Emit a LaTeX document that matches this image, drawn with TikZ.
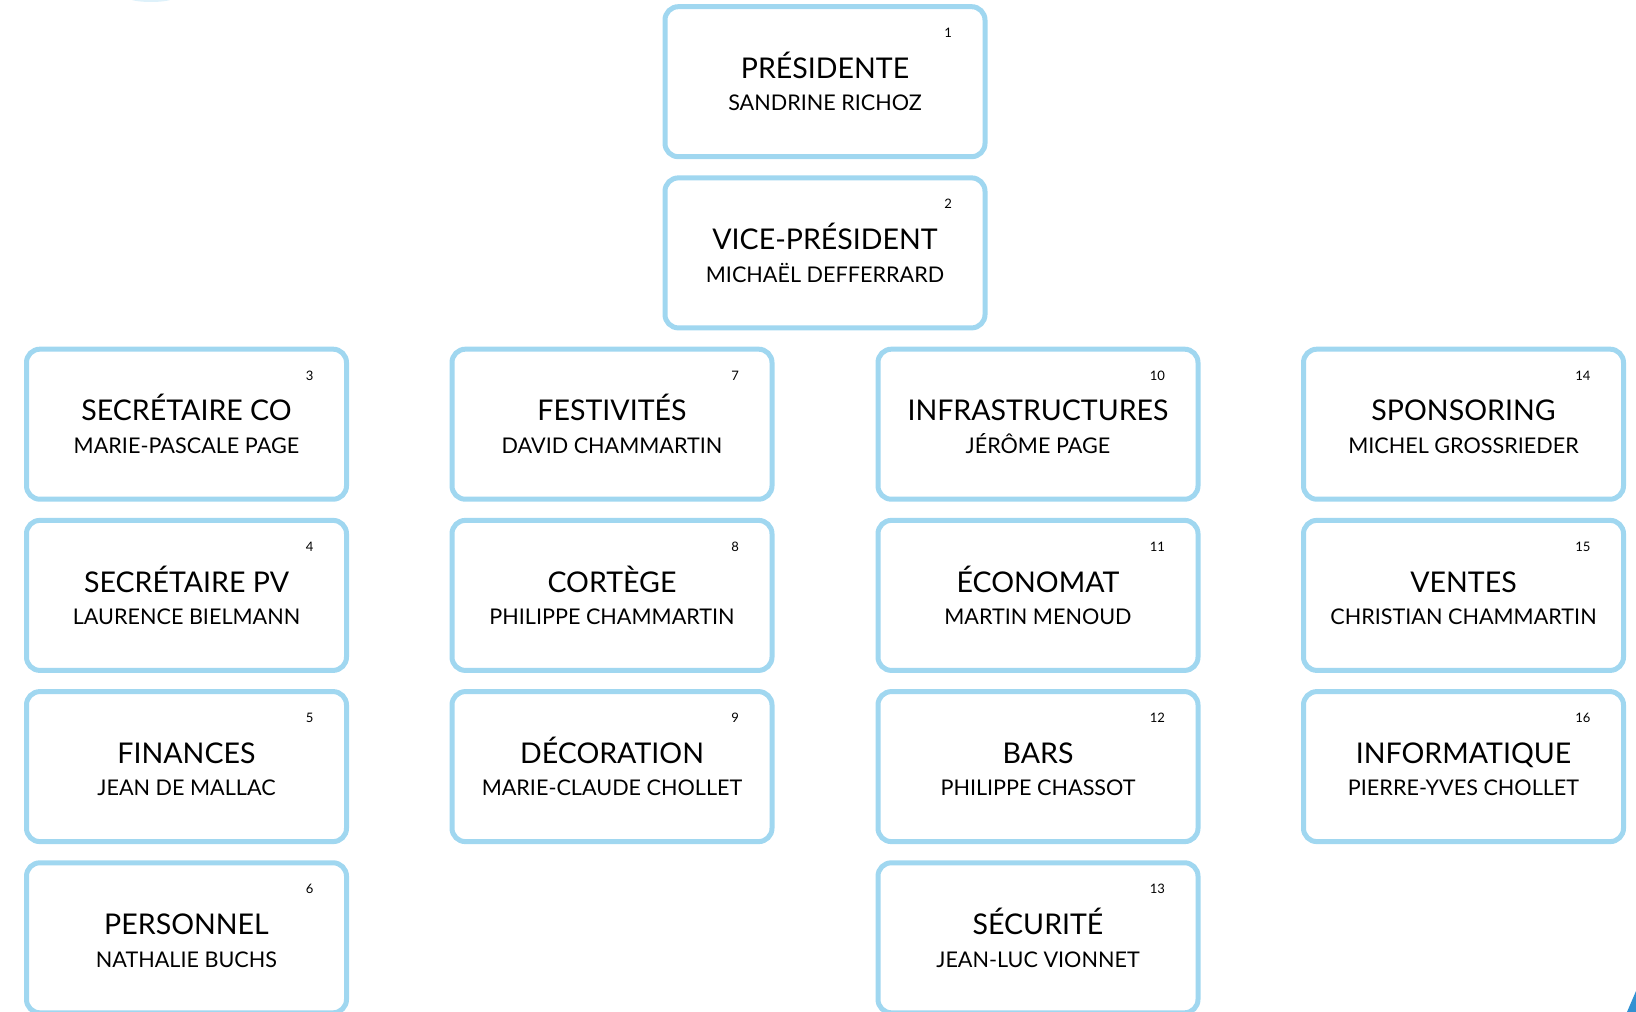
\documentclass[tikz,border=0pt]{standalone}
\usepackage{fontspec}
\setmainfont{Lato}
\definecolor{boxblue}{RGB}{160,215,240}
\definecolor{cornerblue}{RGB}{50,145,210}

\tikzset{every picture/.style={line width=0.75pt}}
\tikzset{
  orgbox/.style={draw=boxblue, line width=3.75pt, rounded corners=10pt, fill=white,
    minimum width=240pt, minimum height=112.5pt, inner sep=0pt},
  roletext/.style={anchor=base, inner sep=0pt, font=\fontsize{21.4}{25}\selectfont},
  nametext/.style={anchor=base, inner sep=0pt, font=\fontsize{16.2}{19}\selectfont},
  numtext/.style={anchor=base east, inner sep=0pt, font=\fontsize{9.8}{11}\selectfont},
}

\begin{document}
\begin{tikzpicture}[x=0.75pt,y=0.75pt,yscale=-1,xscale=1]
%set diagram left start at 0, and has height of 1012
\useasboundingbox (0,0) rectangle (1636,1012);

%Shape: Ellipse [id:faint top]
\fill [boxblue, opacity=0.35] (151,-2) ellipse (22 and 4);
%Shape: Polygon [id:corner]
\fill [cornerblue] (1627,1012) -- (1636,991) -- (1636,1012) -- cycle;

%Shape: Rectangle [id:pres]
\node [orgbox] (pres) at (825,81.7) {};
\path (pres.center) ++(0,-3.4) node [roletext] (presrole) {PRÉSIDENTE};
\path (pres.center) ++(0,29.3) node [nametext] (presname) {SANDRINE RICHOZ};
\path (pres.east) ++(-35,-44) node [numtext] (presnum) {1};

%Shape: Rectangle [id:vice]
\node [orgbox] (vice) at (825,252.9) {};
\path (vice.center) ++(0,-3.4) node [roletext] (vicerole) {VICE-PRÉSIDENT};
\path (vice.center) ++(0,29.3) node [nametext] (vicename) {MICHAËL DEFFERRARD};
\path (vice.east) ++(-35,-44) node [numtext] (vicenum) {2};

%Shape: Rectangle [id:secco]
\node [orgbox] (secco) at (186.5,424.2) {};
\path (secco.center) ++(0,-3.4) node [roletext] (seccorole) {SECRÉTAIRE CO};
\path (secco.center) ++(0,29.3) node [nametext] (secconame) {MARIE-PASCALE PAGE};
\path (secco.east) ++(-35,-44) node [numtext] (secconum) {3};

%Shape: Rectangle [id:secpv]
\node [orgbox] (secpv) at (186.5,595.4) {};
\path (secpv.center) ++(0,-3.4) node [roletext] (secpvrole) {SECRÉTAIRE PV};
\path (secpv.center) ++(0,29.3) node [nametext] (secpvname) {LAURENCE BIELMANN};
\path (secpv.east) ++(-35,-44) node [numtext] (secpvnum) {4};

%Shape: Rectangle [id:fin]
\node [orgbox] (fin) at (186.5,766.6) {};
\path (fin.center) ++(0,-3.4) node [roletext] (finrole) {FINANCES};
\path (fin.center) ++(0,29.3) node [nametext] (finname) {JEAN DE MALLAC};
\path (fin.east) ++(-35,-44) node [numtext] (finnum) {5};

%Shape: Rectangle [id:pers]
\node [orgbox] (pers) at (186.5,937.8) {};
\path (pers.center) ++(0,-3.4) node [roletext] (persrole) {PERSONNEL};
\path (pers.center) ++(0,29.3) node [nametext] (persname) {NATHALIE BUCHS};
\path (pers.east) ++(-35,-44) node [numtext] (persnum) {6};

%Shape: Rectangle [id:fest]
\node [orgbox] (fest) at (612,424.2) {};
\path (fest.center) ++(0,-3.4) node [roletext] (festrole) {FESTIVITÉS};
\path (fest.center) ++(0,29.3) node [nametext] (festname) {DAVID CHAMMARTIN};
\path (fest.east) ++(-35,-44) node [numtext] (festnum) {7};

%Shape: Rectangle [id:cort]
\node [orgbox] (cort) at (612,595.4) {};
\path (cort.center) ++(0,-3.4) node [roletext] (cortrole) {CORTÈGE};
\path (cort.center) ++(0,29.3) node [nametext] (cortname) {PHILIPPE CHAMMARTIN};
\path (cort.east) ++(-35,-44) node [numtext] (cortnum) {8};

%Shape: Rectangle [id:deco]
\node [orgbox] (deco) at (612,766.6) {};
\path (deco.center) ++(0,-3.4) node [roletext] (decorole) {DÉCORATION};
\path (deco.center) ++(0,29.3) node [nametext] (deconame) {MARIE-CLAUDE CHOLLET};
\path (deco.east) ++(-35,-44) node [numtext] (deconum) {9};

%Shape: Rectangle [id:infra]
\node [orgbox] (infra) at (1038,424.2) {};
\path (infra.center) ++(0,-3.4) node [roletext] (infrarole) {INFRASTRUCTURES};
\path (infra.center) ++(0,29.3) node [nametext] (infraname) {JÉRÔME PAGE};
\path (infra.east) ++(-35,-44) node [numtext] (infranum) {10};

%Shape: Rectangle [id:econ]
\node [orgbox] (econ) at (1038,595.4) {};
\path (econ.center) ++(0,-3.4) node [roletext] (econrole) {ÉCONOMAT};
\path (econ.center) ++(0,29.3) node [nametext] (econname) {MARTIN MENOUD};
\path (econ.east) ++(-35,-44) node [numtext] (econnum) {11};

%Shape: Rectangle [id:bars]
\node [orgbox] (bars) at (1038,766.6) {};
\path (bars.center) ++(0,-3.4) node [roletext] (barsrole) {BARS};
\path (bars.center) ++(0,29.3) node [nametext] (barsname) {PHILIPPE CHASSOT};
\path (bars.east) ++(-35,-44) node [numtext] (barsnum) {12};

%Shape: Rectangle [id:secu]
\node [orgbox] (secu) at (1038,937.8) {};
\path (secu.center) ++(0,-3.4) node [roletext] (securole) {SÉCURITÉ};
\path (secu.center) ++(0,29.3) node [nametext] (secuname) {JEAN-LUC VIONNET};
\path (secu.east) ++(-35,-44) node [numtext] (secunum) {13};

%Shape: Rectangle [id:spons]
\node [orgbox] (spons) at (1463.5,424.2) {};
\path (spons.center) ++(0,-3.4) node [roletext] (sponsrole) {SPONSORING};
\path (spons.center) ++(0,29.3) node [nametext] (sponsname) {MICHEL GROSSRIEDER};
\path (spons.east) ++(-35,-44) node [numtext] (sponsnum) {14};

%Shape: Rectangle [id:vent]
\node [orgbox] (vent) at (1463.5,595.4) {};
\path (vent.center) ++(0,-3.4) node [roletext] (ventrole) {VENTES};
\path (vent.center) ++(0,29.3) node [nametext] (ventname) {CHRISTIAN CHAMMARTIN};
\path (vent.east) ++(-35,-44) node [numtext] (ventnum) {15};

%Shape: Rectangle [id:info]
\node [orgbox] (info) at (1463.5,766.6) {};
\path (info.center) ++(0,-3.4) node [roletext] (inforole) {INFORMATIQUE};
\path (info.center) ++(0,29.3) node [nametext] (infoname) {PIERRE-YVES CHOLLET};
\path (info.east) ++(-35,-44) node [numtext] (infonum) {16};

\end{tikzpicture}
\end{document}
